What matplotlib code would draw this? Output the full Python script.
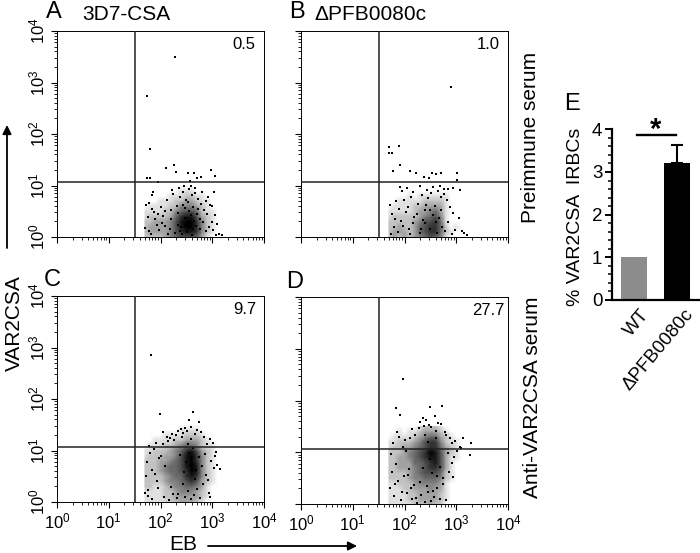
import numpy as np
import matplotlib
matplotlib.use('Agg')
import matplotlib.pyplot as plt
from matplotlib.colors import PowerNorm
from matplotlib.ticker import LogLocator, FixedFormatter, FixedLocator, NullFormatter

plt.rcParams['font.family'] = ['Liberation Sans', 'DejaVu Sans']
plt.rcParams['mathtext.fontset'] = 'custom'
plt.rcParams['mathtext.rm'] = 'Liberation Sans'

W, H = 700, 553

# density of the dot clouds, read by eye (0-9), columns = log10 EB, rows = log10 VAR2CSA
grid_x = [1.7, 1.8, 1.9, 2.0, 2.1, 2.2, 2.3, 2.4, 2.5, 2.6, 2.7, 2.8, 2.9, 3.0, 3.1, 3.2]
grid_y = [0.0, 0.1, 0.2, 0.3, 0.4, 0.5, 0.6, 0.7, 0.8, 0.9, 1.0, 1.1, 1.2, 1.3, 1.4, 1.5]

dens_a = [[2, 2, 2, 2, 3, 4, 5, 6, 6, 6, 5, 3, 1, 0, 0, 0],
          [2, 3, 3, 3, 3, 4, 6, 7, 8, 8, 7, 4, 2, 1, 0, 0],
          [2, 3, 3, 3, 3, 4, 6, 8, 9, 9, 7, 4, 2, 1, 0, 0],
          [2, 2, 3, 3, 3, 4, 6, 8, 9, 9, 7, 4, 2, 1, 0, 0],
          [1, 2, 2, 2, 2, 3, 5, 7, 8, 8, 6, 3, 2, 1, 0, 0],
          [1, 1, 1, 1, 2, 2, 4, 5, 6, 6, 5, 2, 1, 1, 0, 0],
          [0, 1, 1, 1, 1, 2, 2, 4, 4, 4, 3, 2, 1, 0, 0, 0],
          [0, 0, 0, 1, 1, 1, 2, 2, 3, 3, 2, 1, 1, 0, 0, 0],
          [0, 0, 0, 0, 0, 1, 1, 1, 2, 2, 1, 1, 0, 0, 0, 0],
          [0, 0, 0, 0, 0, 0, 0, 1, 1, 1, 0, 0, 0, 0, 0, 0],
          [0, 0, 0, 0, 0, 0, 0, 0, 0, 0, 0, 0, 0, 0, 0, 0]]

dens_b = [[2, 3, 2, 3, 2, 3, 4, 5, 6, 5, 4, 1, 0, 0, 0, 0],
          [2, 3, 3, 3, 2, 3, 5, 6, 7, 7, 5, 2, 1, 0, 0, 0],
          [2, 2, 3, 2, 2, 3, 5, 6, 7, 7, 5, 2, 0, 1, 0, 0],
          [2, 2, 2, 2, 2, 3, 4, 6, 6, 7, 5, 1, 0, 0, 0, 0],
          [1, 2, 2, 2, 2, 2, 3, 4, 5, 6, 4, 1, 0, 0, 0, 0],
          [1, 1, 1, 1, 1, 2, 3, 3, 4, 5, 3, 1, 0, 0, 0, 0],
          [0, 1, 1, 1, 1, 2, 2, 3, 3, 3, 3, 1, 0, 0, 0, 0],
          [0, 0, 1, 1, 1, 1, 1, 2, 2, 2, 2, 1, 0, 0, 0, 0],
          [0, 0, 0, 0, 1, 0, 1, 1, 1, 1, 1, 1, 0, 0, 0, 0],
          [0, 0, 0, 0, 0, 0, 0, 0, 0, 0, 0, 0, 0, 0, 0, 0]]

dens_c = [[1, 1, 1, 1, 1, 2, 2, 3, 3, 3, 2, 1, 0, 0, 0, 0],
          [1, 1, 1, 1, 2, 2, 3, 3, 3, 3, 3, 2, 1, 0, 0, 0],
          [1, 1, 1, 1, 2, 2, 3, 4, 4, 4, 3, 2, 1, 0, 0, 0],
          [2, 2, 1, 1, 2, 3, 4, 4, 5, 5, 4, 3, 1, 0, 0, 0],
          [2, 2, 2, 2, 3, 4, 4, 5, 6, 7, 6, 3, 2, 1, 0, 0],
          [2, 2, 2, 2, 3, 4, 5, 5, 7, 8, 7, 4, 2, 1, 0, 0],
          [2, 2, 2, 3, 4, 5, 5, 6, 7, 9, 8, 4, 2, 1, 0, 0],
          [2, 2, 2, 3, 4, 5, 5, 6, 8, 9, 8, 4, 2, 1, 0, 0],
          [2, 2, 2, 3, 3, 4, 5, 6, 8, 9, 7, 4, 2, 1, 0, 0],
          [1, 2, 2, 2, 3, 3, 4, 6, 8, 9, 7, 4, 2, 1, 0, 0],
          [1, 1, 2, 2, 2, 3, 4, 5, 7, 8, 6, 3, 2, 1, 0, 0],
          [0, 1, 1, 1, 2, 2, 3, 4, 5, 5, 4, 2, 1, 1, 0, 0],
          [0, 0, 1, 1, 1, 1, 2, 2, 3, 3, 3, 2, 1, 0, 0, 0],
          [0, 0, 0, 0, 1, 1, 1, 1, 2, 2, 2, 1, 0, 0, 0, 0],
          [0, 0, 0, 0, 0, 0, 0, 1, 1, 1, 1, 0, 0, 0, 0, 0],
          [0, 0, 0, 0, 0, 0, 0, 0, 0, 0, 0, 0, 0, 0, 0, 0]]

dens_d = [[1, 1, 1, 1, 1, 2, 2, 2, 3, 2, 2, 0, 0, 0, 0, 0],
          [1, 1, 1, 1, 2, 2, 3, 3, 3, 3, 2, 1, 0, 0, 0, 0],
          [1, 1, 1, 1, 2, 2, 3, 3, 3, 3, 2, 1, 0, 0, 0, 0],
          [1, 1, 1, 2, 2, 3, 3, 3, 4, 3, 3, 1, 0, 0, 0, 0],
          [1, 1, 2, 2, 2, 3, 4, 4, 4, 4, 3, 1, 0, 0, 0, 0],
          [2, 2, 2, 2, 3, 4, 4, 5, 5, 5, 4, 2, 1, 0, 0, 0],
          [2, 2, 2, 2, 3, 4, 5, 6, 6, 6, 5, 2, 1, 0, 0, 0],
          [2, 2, 3, 3, 3, 4, 5, 6, 7, 7, 6, 3, 1, 0, 0, 0],
          [2, 2, 3, 3, 3, 5, 5, 6, 7, 8, 6, 3, 1, 0, 0, 0],
          [2, 2, 3, 3, 4, 5, 6, 7, 8, 8, 6, 3, 1, 1, 0, 0],
          [2, 2, 2, 3, 4, 5, 6, 7, 9, 8, 6, 3, 2, 1, 0, 0],
          [1, 2, 2, 3, 3, 4, 5, 6, 7, 7, 5, 3, 2, 1, 0, 0],
          [1, 1, 2, 2, 2, 3, 4, 6, 7, 7, 4, 2, 1, 1, 0, 0],
          [0, 1, 1, 1, 1, 2, 3, 4, 5, 5, 3, 2, 1, 0, 0, 0],
          [0, 0, 1, 0, 1, 1, 2, 3, 3, 3, 2, 1, 0, 0, 0, 0],
          [0, 0, 0, 0, 0, 0, 1, 2, 2, 2, 1, 0, 0, 0, 0, 0]]

# single dots, log10 values
dots_a_x = [2.28, 1.73, 1.79, 2.26, 2.11, 2.97, 3.06, 2.30, 1.74, 1.80, 2.53, 2.64, 2.70, 2.79, 1.96, 2.57,
            1.85, 1.84, 2.22, 2.36, 2.46, 2.58, 2.66, 2.81, 2.92, 3.03, 2.99, 2.87, 1.72, 1.75, 1.78, 1.83,
            1.88, 1.93, 2.00, 2.05, 2.12, 2.18, 2.25, 2.31, 2.37, 2.43, 2.49, 2.55, 2.61, 2.67, 2.73, 2.79,
            2.85, 2.90, 2.95, 3.00, 3.05, 3.10, 3.14, 3.18, 1.70, 1.77, 1.82, 1.90, 1.98, 2.03, 2.08, 2.15,
            2.21, 2.28, 2.34, 2.40, 2.47, 2.52, 2.59, 2.65, 2.72, 2.77, 2.83, 2.88, 2.94, 3.02, 3.07, 2.42,
            2.51, 2.63, 2.76, 2.34, 2.20, 2.09, 1.95, 2.56, 2.68, 2.48, 2.60, 2.38, 2.70, 2.44, 2.54, 2.62]
dots_a_y = [3.49, 2.74, 1.71, 1.39, 1.34, 1.30, 1.19, 1.26, 1.15, 1.14, 1.24, 1.25, 1.14, 1.16, 1.07, 1.08,
            0.88, 0.82, 0.92, 0.96, 0.99, 1.00, 0.95, 0.88, 0.78, 0.87, 0.60, 0.70, 0.62, 0.38, 0.12, 0.55,
            0.48, 0.24, 0.58, 0.40, 0.71, 0.16, 0.83, 0.60, 0.78, 0.88, 0.72, 0.93, 0.81, 0.85, 0.74, 0.64,
            0.53, 0.45, 0.62, 0.30, 0.42, 0.25, 0.06, 0.03, 0.18, 0.66, 0.05, 0.35, 0.14, 0.28, 0.50, 0.06,
            0.35, 0.08, 0.46, 0.20, 0.57, 0.10, 0.42, 0.32, 0.55, 0.16, 0.30, 0.12, 0.20, 0.14, 0.03, 0.05,
            0.26, 0.15, 0.34, 0.24, 0.52, 0.22, 0.44, 0.50, 0.22, 0.36, 0.04, 0.12, 0.44, 0.62, 0.68, 0.58]

dots_b_x = [2.89, 1.71, 1.90, 1.71, 1.75, 1.92, 1.78, 2.11, 2.23, 2.38, 2.53, 2.70, 3.01, 3.01, 2.60, 2.47,
            1.92, 1.96, 2.04, 2.16, 2.30, 2.44, 2.55, 2.68, 2.76, 2.85, 2.94, 3.08, 1.72, 1.76, 1.80, 1.84,
            1.89, 1.94, 1.99, 2.03, 2.08, 2.13, 2.19, 2.26, 2.33, 2.39, 2.46, 2.52, 2.58, 2.64, 2.70, 2.76,
            2.82, 2.88, 2.93, 3.05, 3.12, 3.20, 1.74, 1.82, 1.87, 1.97, 2.06, 2.11, 2.17, 2.24, 2.29, 2.36,
            2.42, 2.49, 2.56, 2.62, 2.67, 2.73, 2.79, 2.85, 2.91, 2.98, 3.15, 2.50, 2.60, 2.40, 2.70, 2.32]
dots_b_y = [2.92, 1.75, 1.77, 1.63, 1.63, 1.40, 1.28, 1.28, 1.24, 1.17, 1.25, 1.25, 1.24, 1.11, 1.22, 1.14,
            0.98, 0.90, 0.95, 0.88, 0.99, 0.92, 0.97, 1.00, 0.93, 0.94, 0.96, 0.92, 0.62, 0.44, 0.20, 0.70,
            0.55, 0.31, 0.72, 0.48, 0.15, 0.78, 0.38, 0.65, 0.82, 0.52, 0.76, 0.86, 0.60, 0.90, 0.78, 0.84,
            0.72, 0.58, 0.46, 0.36, 0.12, 0.03, 0.05, 0.35, 0.10, 0.22, 0.58, 0.06, 0.28, 0.45, 0.08, 0.33,
            0.62, 0.16, 0.42, 0.08, 0.36, 0.20, 0.12, 0.30, 0.05, 0.14, 0.08, 0.52, 0.30, 0.28, 0.52, 0.15]

dots_c_x = [1.81, 1.99, 2.63, 2.56, 2.75, 2.40, 2.48, 2.33, 2.22, 2.12, 2.58, 2.70, 2.85, 2.96, 3.02, 2.05,
            1.92, 1.78, 2.18, 2.30, 2.44, 2.52, 2.66, 2.78, 2.90, 3.05, 3.10, 3.15, 1.72, 1.74, 1.76, 1.80,
            1.84, 1.88, 1.93, 1.98, 2.04, 2.09, 2.14, 2.20, 2.27, 2.34, 2.41, 2.47, 2.53, 2.59, 2.65, 2.71,
            2.77, 2.83, 2.88, 2.93, 2.98, 3.03, 3.08, 1.71, 1.75, 1.83, 1.90, 1.96, 2.01, 2.07, 2.16, 2.24,
            2.31, 2.37, 2.43, 2.50, 2.56, 2.62, 2.68, 2.74, 2.80, 2.86, 2.91, 2.95, 2.58, 2.66, 2.46, 2.54]
dots_c_y = [2.86, 1.70, 1.74, 1.59, 1.56, 1.42, 1.44, 1.38, 1.33, 1.27, 1.46, 1.40, 1.26, 1.22, 1.15, 1.36,
            1.14, 1.08, 1.24, 1.30, 1.34, 1.38, 1.32, 1.36, 1.12, 0.90, 0.72, 0.64, 0.50, 0.78, 0.24, 0.96,
            0.62, 1.02, 0.40, 0.86, 1.12, 0.70, 1.18, 0.30, 1.20, 0.16, 1.26, 0.10, 0.22, 0.06, 0.14, 0.26,
            0.08, 0.34, 0.52, 0.18, 0.80, 0.66, 0.98, 0.18, 0.12, 0.06, 0.55, 0.28, 0.90, 0.10, 0.04, 0.16,
            0.08, 0.92, 0.34, 0.78, 0.96, 1.05, 0.62, 0.88, 0.70, 0.94, 0.42, 0.10, 1.22, 0.44, 0.58, 1.12]

dots_d_x = [1.98, 1.83, 1.92, 2.50, 2.72, 3.29, 3.26, 2.35, 2.30, 2.42, 2.58, 2.65, 2.48, 2.20, 2.78, 2.88,
            2.98, 3.08, 3.14, 1.85, 1.90, 1.78, 2.00, 2.10, 2.15, 2.28, 2.38, 2.52, 2.60, 2.70, 2.80, 2.92,
            1.72, 1.75, 1.80, 1.84, 1.88, 1.94, 1.99, 2.04, 2.09, 2.14, 2.19, 2.25, 2.32, 2.39, 2.45, 2.51,
            2.57, 2.63, 2.69, 2.75, 2.81, 2.86, 2.91, 2.96, 3.02, 3.10, 1.74, 1.82, 1.96, 2.06, 2.12, 2.22,
            2.30, 2.36, 2.44, 2.50, 2.56, 2.62, 2.68, 2.74, 2.84, 2.94, 1.97, 2.02, 2.46, 2.60, 2.40, 2.54]
dots_d_y = [2.42, 1.85, 1.72, 1.88, 1.90, 1.17, 0.94, 1.66, 1.58, 1.62, 1.70, 1.56, 1.52, 1.34, 1.40, 1.28,
            1.22, 1.10, 1.28, 1.40, 1.30, 1.18, 1.24, 1.28, 1.44, 1.46, 1.50, 1.48, 1.42, 1.54, 1.34, 1.18,
            0.30, 0.62, 0.16, 0.78, 0.45, 0.08, 0.54, 0.22, 0.68, 0.10, 0.36, 0.02, 0.18, 0.04, 0.24, 0.06,
            0.14, 0.30, 0.10, 0.38, 0.08, 0.62, 0.80, 0.90, 1.02, 1.08, 0.96, 0.38, 0.24, 0.56, 0.30, 0.12,
            0.42, 0.70, 0.34, 0.86, 0.26, 0.54, 0.72, 0.50, 0.98, 0.52, 1.10, 1.02, 1.20, 1.28, 1.34, 0.60]

quad_x = [1.50, 1.51, 1.50, 1.51]
quad_y = [1.06, 1.06, 1.06, 1.07]
percents = ['0.5', '1.0', '9.7', '27.7']
decades = [0, 1, 2, 3, 4]
decade_labels = [r'$\mathregular{10^{%d}}$' % d for d in decades]

# bar panel
bar_names = ['WT', '\u0394PFB0080c']
bar_vals = [1.01, 3.22]
bar_errs = [0.0, 0.41]
bar_cols = ['#8c8c8c', '#000000']

fig = plt.figure(figsize=(W / 100, H / 100), dpi=100)
gray = plt.get_cmap('Greys')


def px_axes(left, top, right, bottom):
    return fig.add_axes([left / W, 1 - bottom / H, (right - left) / W, (bottom - top) / H])


def px_text(x, y, s, **kw):
    kw.setdefault('ha', 'center')
    kw.setdefault('va', 'center')
    fig.text(x / W, 1 - y / H, s, **kw)


def flow_panel(box, dens, dots_x, dots_y, qx, qy, pct, show_x, show_y):
    ax = px_axes(*box)
    ax.set_xscale('log')
    ax.set_yscale('log')
    ax.set_xlim(1, 1e4)
    ax.set_ylim(1, 1e4)
    gx = 10.0 ** np.array(grid_x)
    gy = 10.0 ** np.array(grid_y[:len(dens)])
    ax.pcolormesh(gx, gy, np.array(dens), shading='gouraud', cmap=gray,
                  norm=PowerNorm(0.7, vmin=0, vmax=9), rasterized=True)
    ax.scatter(10.0 ** np.array(dots_x), 10.0 ** np.array(dots_y), s=0.7, marker='s', c='black', linewidths=0, zorder=3)
    ax.axvline(10 ** qx, color='#222222', lw=1.1, zorder=4)
    ax.axhline(10 ** qy, color='#222222', lw=1.1, zorder=4)
    for axis in (ax.xaxis, ax.yaxis):
        axis.set_major_locator(FixedLocator([10.0 ** d for d in decades]))
        axis.set_minor_locator(LogLocator(base=10, subs=range(2, 10), numticks=10))
        axis.set_minor_formatter(NullFormatter())
    ax.tick_params(which='major', length=4, width=0.8, labelsize=12, pad=3)
    ax.tick_params(which='minor', length=2, width=0.6)
    if show_x:
        ax.xaxis.set_major_formatter(FixedFormatter(decade_labels))
    else:
        ax.xaxis.set_major_formatter(NullFormatter())
    if show_y:
        ax.yaxis.set_major_formatter(FixedFormatter(decade_labels))
        for lab in ax.get_yticklabels():
            lab.set_rotation(90)
            lab.set_va('center')
    else:
        ax.yaxis.set_major_formatter(NullFormatter())
    for sp in ax.spines.values():
        sp.set_linewidth(0.7)
    ax.text(0.905, 0.935, pct, transform=ax.transAxes, ha='center', va='center', fontsize=12)
    return ax


flow_panel((57, 31, 264, 237), dens_a, dots_a_x, dots_a_y, quad_x[0], quad_y[0], percents[0], False, True)
flow_panel((301, 31, 508, 237), dens_b, dots_b_x, dots_b_y, quad_x[1], quad_y[1], percents[1], False, False)
flow_panel((57, 296, 264, 502), dens_c, dots_c_x, dots_c_y, quad_x[2], quad_y[2], percents[2], True, True)
flow_panel((301, 297, 508, 504), dens_d, dots_d_x, dots_d_y, quad_x[3], quad_y[3], percents[3], True, False)

# bar chart
ax = px_axes(612, 129.3, 700, 300)
ax.bar(range(len(bar_vals)), bar_vals, width=0.6, color=bar_cols)
ax.errorbar([1], [bar_vals[1]], yerr=[[0], [bar_errs[1]]], color='black', lw=1.5, capsize=4.5, capthick=1.5)
ax.set_xlim(-0.52, 1.53)
ax.set_ylim(0, 4)
ax.set_yticks([0, 1, 2, 3, 4])
ax.set_yticks(np.arange(0, 4.01, 0.2), minor=True)
ax.set_xticks([])
ax.tick_params(axis='y', which='major', length=5, width=1.4, labelsize=13.5, pad=2)
ax.tick_params(axis='y', which='minor', length=3, width=1.1)
for s in ('top', 'right'):
    ax.spines[s].set_visible(False)
ax.spines['left'].set_linewidth(1.6)
ax.spines['bottom'].set_linewidth(1.6)
ax.patch.set_alpha(0)

fig.add_artist(plt.Line2D([637 / W, 676 / W], [1 - 135 / H, 1 - 135 / H], color='black', lw=1.7))
px_text(656, 130, '*', fontsize=21, fontweight='bold')
px_text(640, 306, bar_names[0], fontsize=13.5, rotation=50, ha='right', va='top', rotation_mode='anchor')
px_text(684, 306, bar_names[1], fontsize=13.5, rotation=50, ha='right', va='top', rotation_mode='anchor')

# panel letters and labels
px_text(54, 18, 'A', fontsize=17, va='baseline')
px_text(297, 18, 'B', fontsize=17, va='baseline')
px_text(52, 286, 'C', fontsize=17, va='baseline')
px_text(295, 288, 'D', fontsize=17, va='baseline')
px_text(572, 110, 'E', fontsize=17, va='baseline')
px_text(126, 15, '3D7-CSA', fontsize=15)
px_text(370, 15, '\u0394PFB0080c', fontsize=15)
px_text(14, 323, 'VAR2CSA', fontsize=15, rotation=90)
px_text(183, 545, 'EB', fontsize=15)
px_text(530, 137, 'Preimmune serum', fontsize=15, rotation=90)
px_text(532, 397, 'Anti-VAR2CSA serum', fontsize=15, rotation=90)
px_text(576, 217, '% VAR2CSA  IRBCs', fontsize=14, rotation=90)

# arrows
fig.add_artist(matplotlib.patches.FancyArrowPatch((7 / W, 1 - 248 / H), (7 / W, 1 - 125 / H), transform=fig.transFigure,
                                                  arrowstyle='-|>', mutation_scale=13, color='black', lw=1.3, shrinkA=0, shrinkB=0))
fig.add_artist(matplotlib.patches.FancyArrowPatch((208 / W, 1 - 546 / H), (357 / W, 1 - 546 / H), transform=fig.transFigure,
                                                  arrowstyle='-|>', mutation_scale=13, color='black', lw=1.3, shrinkA=0, shrinkB=0))

fig.savefig('out.png', dpi=100)
